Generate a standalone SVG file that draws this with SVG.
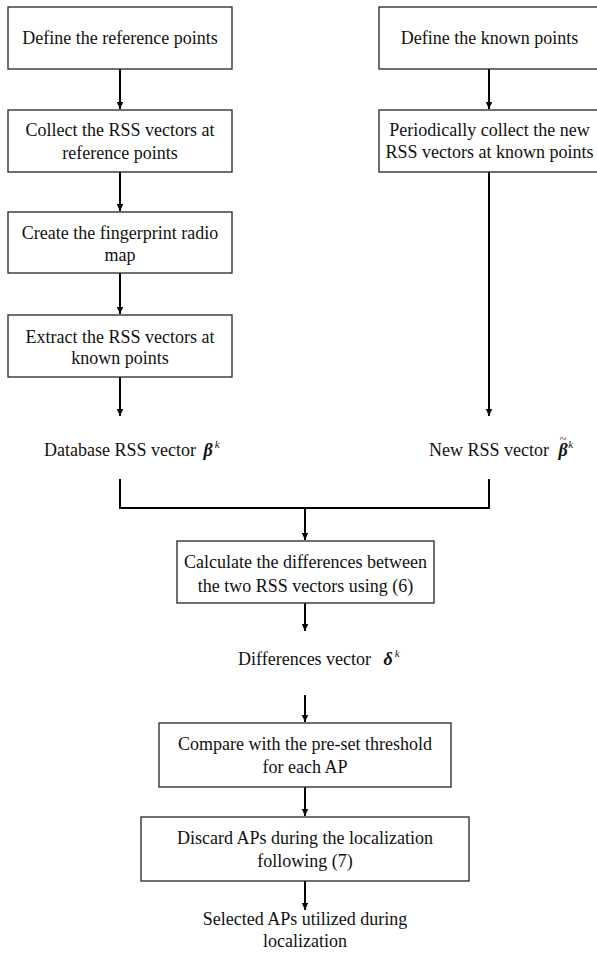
<svg xmlns="http://www.w3.org/2000/svg" width="597" height="954" viewBox="0 0 597 954">
<defs>
<marker id="ah" markerWidth="8" markerHeight="8" refX="7" refY="4" orient="auto" markerUnits="userSpaceOnUse">
<path d="M0,0.8 L7,4 L0,7.2 Z" fill="#000"/>
</marker>
<style>
.box{fill:#fff;stroke:#333;stroke-width:1.4}
.t{font-size:18px;fill:#111;text-anchor:middle}
.l{font-size:18px;fill:#111}
.m{font-weight:bold;font-style:italic}
.s{font-style:italic;font-size:11px}
.c{fill:none;stroke:#000;stroke-width:2}
</style>
</defs>
<rect width="597" height="954" fill="#fff"/>
<g id="connectors">
<path class="c" d="M120,69 V109" marker-end="url(#ah)"/>
<path class="c" d="M120,172 V211" marker-end="url(#ah)"/>
<path class="c" d="M120,273 V314" marker-end="url(#ah)"/>
<path class="c" d="M120,377 V416" marker-end="url(#ah)"/>
<path class="c" d="M489,69 V109" marker-end="url(#ah)"/>
<path class="c" d="M489,172 V416" marker-end="url(#ah)"/>
<path class="c" d="M120,479 V508 H489 V479" stroke-width="2.5"/>
<path class="c" d="M305,508 V540" marker-end="url(#ah)"/>
<path class="c" d="M305,603 V631" marker-end="url(#ah)"/>
<path class="c" d="M305,695 V722" marker-end="url(#ah)"/>
<path class="c" d="M305,787 V816" marker-end="url(#ah)"/>
<path class="c" d="M305,881 V910" marker-end="url(#ah)"/>
</g>
<g font-family="Liberation Serif, Times New Roman, serif">
<g id="n1"><rect class="box" x="8" y="7" width="224" height="62"/><text class="t" x="120" y="44">Define the reference points</text></g>
<g id="n2"><rect class="box" x="8" y="110" width="224" height="62"/><text class="t" x="120" y="136">Collect the RSS vectors at</text><text class="t" x="120" y="159">reference points</text></g>
<g id="n3"><rect class="box" x="8" y="212" width="224" height="61"/><text class="t" x="120" y="239">Create the fingerprint radio</text><text class="t" x="120" y="261">map</text></g>
<g id="n4"><rect class="box" x="8" y="315" width="224" height="62"/><text class="t" x="120" y="343">Extract the RSS vectors at</text><text class="t" x="120" y="364">known points</text></g>
<g id="r1"><rect class="box" x="379" y="7" width="224" height="62"/><text class="t" x="489.5" y="44">Define the known points</text></g>
<g id="r2"><rect class="box" x="379" y="110" width="224" height="62"/><text class="t" x="489.5" y="136">Periodically collect the new</text><text class="t" x="489.5" y="158">RSS vectors at known points</text></g>
<g id="db"><text class="l" x="44" y="456">Database RSS vector <tspan class="m" dx="3">β</tspan><tspan class="s" dy="-8" dx="2">k</tspan></text></g>
<g id="new"><text class="l" x="429" y="456">New RSS vector <tspan class="m" dx="5">β</tspan><tspan font-size="12" dx="-8" dy="-13">~</tspan><tspan class="s" dx="2" dy="5">k</tspan></text></g>
<g id="n5"><rect class="box" x="177" y="541" width="257" height="62"/><text class="t" x="305.5" y="568">Calculate the differences between</text><text class="t" x="305.5" y="592">the two RSS vectors using (6)</text></g>
<g id="diff"><text class="l" x="238" y="665">Differences vector <tspan class="m" dx="8">δ</tspan><tspan class="s" dy="-8" dx="2">k</tspan></text></g>
<g id="n6"><rect class="box" x="159" y="723" width="292" height="64"/><text class="t" x="305" y="750">Compare with the pre-set threshold</text><text class="t" x="305" y="773">for each AP</text></g>
<g id="n7"><rect class="box" x="141" y="817" width="328" height="64"/><text class="t" x="305" y="844">Discard APs during the localization</text><text class="t" x="305" y="867">following (7)</text></g>
<g id="out"><text class="t" x="305" y="925">Selected APs utilized during</text><text class="t" x="305" y="947">localization</text></g>
</g>
</svg>
